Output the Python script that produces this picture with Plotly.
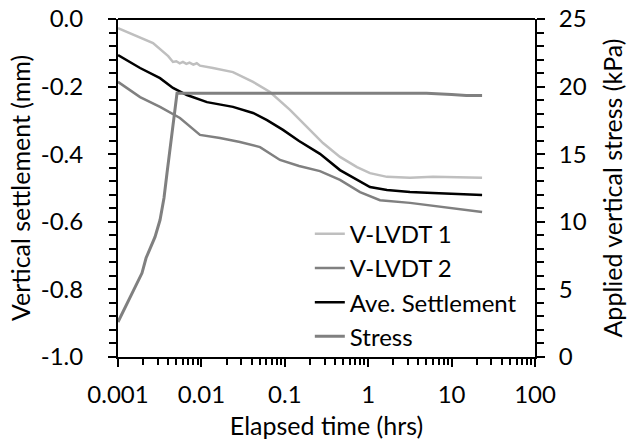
import plotly.graph_objects as go

# ---- data ----
t_v1 = [0.001, 0.00184, 0.00263, 0.0040, 0.00456, 0.0050, 0.0055, 0.0060, 0.0066, 0.0072, 0.0080, 0.0088,
        0.00962, 0.01377, 0.0239, 0.0416, 0.0665, 0.1154, 0.1845, 0.287, 0.459, 0.734, 1.05, 1.68, 3.17, 5.98, 23.2]
s_v1 = [-0.027, -0.056, -0.071, -0.110, -0.127, -0.125, -0.131, -0.127, -0.133, -0.129, -0.135, -0.131,
        -0.138, -0.145, -0.157, -0.186, -0.216, -0.269, -0.320, -0.367, -0.408, -0.438, -0.456, -0.467, -0.470, -0.467, -0.470]

t_v2 = [0.001, 0.00184, 0.00319, 0.00553, 0.00962, 0.0167, 0.0290, 0.0505, 0.0876, 0.1483, 0.264, 0.459,
        0.798, 1.385, 3.17, 7.26, 23.2]
s_v2 = [-0.186, -0.231, -0.260, -0.293, -0.343, -0.352, -0.364, -0.379, -0.417, -0.435, -0.450, -0.476,
        -0.512, -0.536, -0.544, -0.556, -0.571]

t_ave = [0.001, 0.00184, 0.00319, 0.00456, 0.00671, 0.01167, 0.0239, 0.0416, 0.0612, 0.0951, 0.1483, 0.264,
         0.459, 0.798, 1.05, 1.68, 3.17, 5.98, 23.2]
s_ave = [-0.107, -0.145, -0.175, -0.204, -0.225, -0.246, -0.260, -0.278, -0.299, -0.328, -0.361, -0.399,
         -0.447, -0.482, -0.497, -0.506, -0.512, -0.515, -0.521]

t_stress = [0.001, 0.00139, 0.00194, 0.00217, 0.00278, 0.00319, 0.00356, 0.00387, 0.00421, 0.0051,
            0.01, 0.1, 1.0, 5.0, 10.0, 15.0, 23.2]
stress = [2.59, 4.44, 6.21, 7.32, 8.88, 10.13, 11.76, 13.61, 15.53, 19.50,
          19.50, 19.50, 19.50, 19.50, 19.42, 19.35, 19.35]

x_ticks = [0.001, 0.01, 0.1, 1, 10, 100]
x_ticktext = ["0.001", "0.01", "0.1", "1", "10", "100"]
y_ticks = [0.0, -0.2, -0.4, -0.6, -0.8, -1.0]
y_ticktext = ["0.0", "-0.2", "-0.4", "-0.6", "-0.8", "-1.0"]
y2_ticks = [0, 5, 10, 15, 20, 25]

FONT = "Lato"
FS = 24
TFS = 25

fig = go.Figure()
fig.add_trace(go.Scatter(x=t_v1, y=s_v1, mode="lines", name="V-LVDT 1",
                         line=dict(color="#BFBFBF", width=2.5), legendgroup="a"))
fig.add_trace(go.Scatter(x=t_v2, y=s_v2, mode="lines", name="V-LVDT 2",
                         line=dict(color="#808080", width=2.5), legendgroup="b"))
fig.add_trace(go.Scatter(x=t_ave, y=s_ave, mode="lines", name="Ave. Settlement",
                         line=dict(color="#000000", width=2.5), legendgroup="c"))
fig.add_trace(go.Scatter(x=t_stress, y=stress, mode="lines", name="Stress", yaxis="y2",
                         line=dict(color="#808080", width=3), legendgroup="d"))

minor_x = [m * 10 ** e for e in range(-3, 2) for m in range(2, 10)]

fig.update_layout(
    width=628, height=447,
    margin=dict(l=118, r=93, t=19, b=90, autoexpand=False),
    paper_bgcolor="white", plot_bgcolor="white",
    font=dict(family=FONT, size=FS, color="black"),
    showlegend=True,
    legend=dict(x=0.46, y=0.43, xanchor="left", yanchor="top", bgcolor="rgba(0,0,0,0)",
                font=dict(family=FONT, size=FS), traceorder="grouped", tracegroupgap=0,
                itemwidth=30),
    xaxis=dict(type="log", range=[-3, 2], tickvals=x_ticks, ticktext=x_ticktext, automargin=False,
               showgrid=False, zeroline=False, showline=True, linecolor="black", linewidth=2,
               ticks="outside", ticklen=8, tickwidth=2, tickcolor="black", mirror=False,
               ticklabelstandoff=7,
               minor=dict(tickvals=minor_x, ticks="outside", ticklen=6, tickwidth=2, tickcolor="black"),
               title=dict(text="Elapsed time (hrs)", standoff=11, font=dict(size=TFS))),
    yaxis=dict(range=[-1.0, 0.0], tickvals=y_ticks, ticktext=y_ticktext, automargin=False,
               showgrid=False, zeroline=False, showline=True, linecolor="black", linewidth=2,
               ticks="outside", ticklen=8, tickwidth=2, tickcolor="black",
               ticklabelstandoff=20,
               minor=dict(dtick=0.04, tick0=0, ticks="outside", ticklen=7, tickwidth=2, tickcolor="black"),
               title=dict(text="Vertical settlement (mm)", standoff=3, font=dict(size=TFS))),
    yaxis2=dict(range=[0, 25], tickvals=y2_ticks, overlaying="y", side="right", automargin=False,
                showgrid=False, zeroline=False, showline=True, linecolor="black", linewidth=2,
                ticks="outside", ticklen=8, tickwidth=2, tickcolor="black",
                ticklabelstandoff=9,
                minor=dict(dtick=1, tick0=0, ticks="outside", ticklen=7, tickwidth=2, tickcolor="black"),
                title=dict(text="Applied vertical stress (kPa)", standoff=19, font=dict(size=TFS))),
    shapes=[dict(type="line", xref="paper", yref="paper", x0=0, x1=1, y0=1, y1=1,
                 line=dict(color="black", width=2))],
)

fig.write_html("out.html")
